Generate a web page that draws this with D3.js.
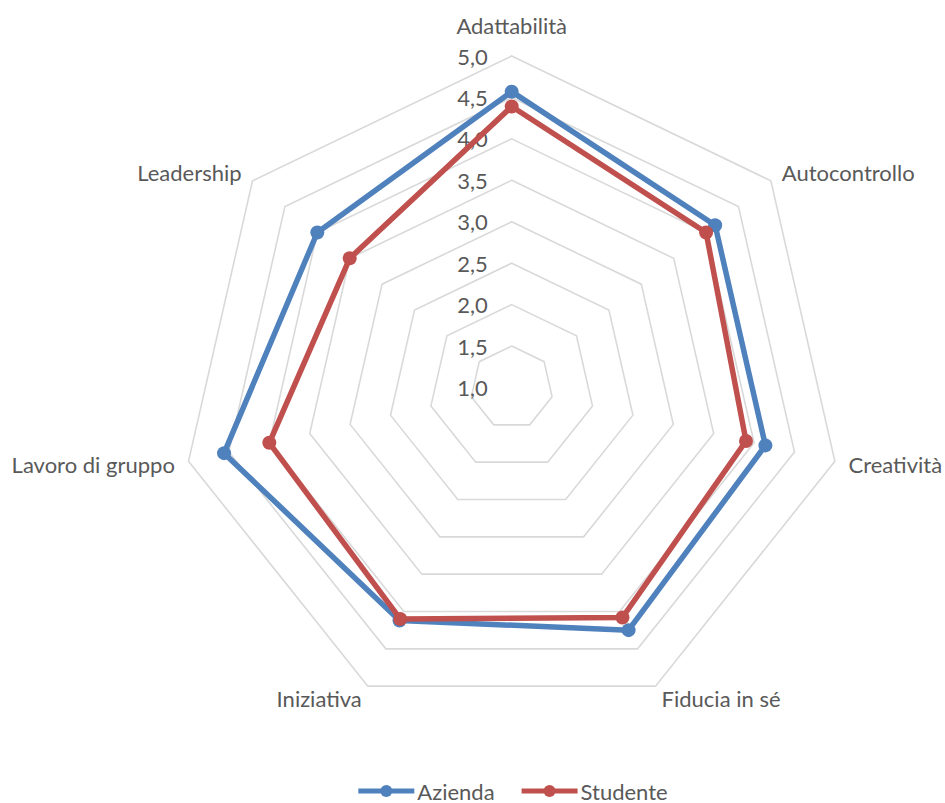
<!DOCTYPE html>
<html>
<head>
<meta charset="utf-8">
<script src="https://cdn.jsdelivr.net/npm/d3@7"></script>
<style>
  body { margin: 0; background: #fff; }
  text { font-family: Lato, "Open Sans", sans-serif; fill: #595959; }
</style>
</head>
<body>
<div class="chart"></div>
<script>
// data
const categories = ["Adattabilità", "Autocontrollo", "Creatività", "Fiducia in sé", "Iniziativa", "Lavoro di gruppo", "Leadership"];
const azienda = [4.57, 4.14, 4.14, 4.25, 4.12, 4.56, 4.0];
const studente = [4.39, 4.0, 3.9, 4.08, 4.1, 4.0, 3.5];
const tickValues = [1.0, 1.5, 2.0, 2.5, 3.0, 3.5, 4.0, 4.5, 5.0];
const seriesNames = ["Azienda", "Studente"];
const seriesColors = ["#4f81bd", "#c0504d"];

const W = 945, H = 803;
const cx = 511.7, cy = 387.5, R = 331.5;

const svg = d3.select(".chart")
  .append("svg")
  .attr("width", W)
  .attr("height", H);

const rScale = d3.scaleLinear()
  .domain([1, 5])
  .range([0, R]);

const angle = d3.scaleLinear() // category index -> angle, clockwise from top
  .domain([0, categories.length])
  .range([0, 2 * Math.PI]);

const it = d3.formatLocale({ decimal: ",", thousands: ".", grouping: [3], currency: ["€", ""] });
const fmt = it.format(".1f");

const chart = svg.append("g")
  .attr("transform", `translate(${cx},${cy})`);

// grid rings
const ring = d3.lineRadial()
  .angle((d, i) => angle(i))
  .radius(d => rScale(d))
  .curve(d3.curveLinearClosed);

chart.selectAll("path.ring")
  .data(tickValues.filter(v => v > 1))
  .join("path")
  .attr("class", "ring")
  .attr("d", v => ring(categories.map(() => v)))
  .attr("fill", "none")
  .attr("stroke", "#d9d9d9")
  .attr("stroke-width", 1.6);

// tick labels on the vertical axis
chart.selectAll("text.tick")
  .data(tickValues)
  .join("text")
  .attr("class", "tick")
  .attr("x", -24)
  .attr("y", d => -rScale(d))
  .attr("text-anchor", "end")
  .attr("dominant-baseline", "central")
  .style("font-size", "22px")
  .text(d => fmt(d));

// category labels
const labelR = R + 14;
chart.selectAll("text.cat")
  .data(categories)
  .join("text")
  .attr("class", "cat")
  .attr("x", (d, i) => labelR * Math.sin(angle(i)))
  .attr("y", (d, i) => {
    const c = Math.cos(angle(i));
    return -labelR * c - (Math.abs(Math.sin(angle(i))) < 0.1 ? 17 * Math.sign(c) : 0);
  })
  .attr("text-anchor", (d, i) => {
    const s = Math.sin(angle(i));
    return s > 0.1 ? "start" : s < -0.1 ? "end" : "middle";
  })
  .attr("dominant-baseline", "central")
  .style("font-size", "22px")
  .text(d => d);

// series
const series = [azienda, studente];
const seriesLine = d3.lineRadial()
  .angle((d, i) => angle(i))
  .radius(d => rScale(d))
  .curve(d3.curveLinearClosed);

const sg = chart.selectAll("g.series")
  .data(series)
  .join("g")
  .attr("class", "series");

sg.append("path")
  .attr("d", d => seriesLine(d))
  .attr("fill", "none")
  .attr("stroke", (d, i) => seriesColors[i])
  .attr("stroke-width", 5.5)
  .attr("stroke-linejoin", "round");

sg.each(function(d, si) {
  d3.select(this).selectAll("circle")
    .data(d)
    .join("circle")
    .attr("cx", (v, i) => rScale(v) * Math.sin(angle(i)))
    .attr("cy", (v, i) => -rScale(v) * Math.cos(angle(i)))
    .attr("r", 7)
    .attr("fill", seriesColors[si]);
});

// legend
const legend = svg.append("g").attr("class", "legend");
const items = legend.selectAll("g.item")
  .data(seriesNames)
  .join("g")
  .attr("class", "item");

items.append("line")
  .attr("x1", 0).attr("x2", 56)
  .attr("y1", 0).attr("y2", 0)
  .attr("stroke", (d, i) => seriesColors[i])
  .attr("stroke-width", 5);

items.append("circle")
  .attr("cx", 28).attr("cy", 0)
  .attr("r", 6)
  .attr("fill", (d, i) => seriesColors[i]);

items.append("text")
  .attr("x", 59)
  .attr("y", 0)
  .attr("dominant-baseline", "central")
  .style("font-size", "22px")
  .text(d => d);

const widths = [];
items.each(function() {
  widths.push(59 + d3.select(this).select("text").node().getComputedTextLength());
});
const gap = 27;
const total = d3.sum(widths) + gap * (widths.length - 1);
let x0 = 513 - total / 2;
items.attr("transform", (d, i) => {
  const x = x0;
  x0 += widths[i] + gap;
  return `translate(${x},791)`;
});
</script>
</body>
</html>
